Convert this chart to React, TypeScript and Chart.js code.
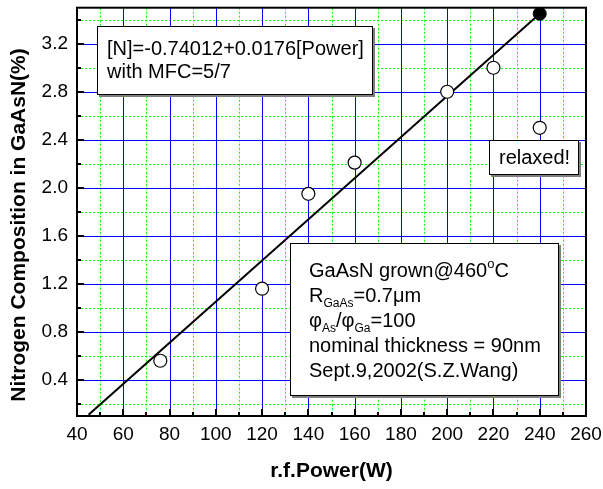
import React, { useEffect, useRef } from "react";
import { Chart, registerables } from "chart.js";

Chart.register(...registerables);

// ---- data ----
const powerW = [76, 120, 140, 160, 200, 220, 240];
const nitrogenPct = [0.56, 1.16, 1.95, 2.21, 2.8, 3.0, 2.5];
const relaxedPowerW = [240];
const relaxedPct = [3.45];
const fitPowerW = [45, 240];
const fitPct = [0.11, 3.45];

const xTickValues = [40, 60, 80, 100, 120, 140, 160, 180, 200, 220, 240, 260];
const yTickValues = [0.4, 0.8, 1.2, 1.6, 2.0, 2.4, 2.8, 3.2];
const xMinorValues = [50, 70, 90, 110, 130, 150, 170, 190, 210, 230, 250];
const yMinorValues = [0.2, 0.6, 1.0, 1.4, 1.8, 2.2, 2.6, 3.0, 3.4];
const xMajorGrid = [60, 80, 100, 120, 140, 160, 180, 200, 220, 240];

const xTitle = "r.f.Power(W)";
const yTitle = "Nitrogen Composition in GaAsN(%)";

const FONT = '"Liberation Sans", Arial, Helvetica, sans-serif';

type Run = { t: string; size?: number; dy?: number };

function drawRuns(ctx: CanvasRenderingContext2D, x: number, y: number, runs: Run[]) {
  let cx = x;
  for (const r of runs) {
    const size = r.size ?? 20;
    ctx.font = `${size}px ${FONT}`;
    ctx.fillText(r.t, cx, y + (r.dy ?? 0));
    cx += ctx.measureText(r.t).width;
  }
}

function drawBox(ctx: CanvasRenderingContext2D, x1: number, y1: number, x2: number, y2: number) {
  ctx.fillStyle = "#808080";
  ctx.fillRect(x2, y1 + 2, 2, y2 - y1);
  ctx.fillRect(x1 + 2, y2, x2 - x1, 2);
  ctx.fillStyle = "#ffffff";
  ctx.fillRect(x1, y1, x2 - x1, y2 - y1);
  ctx.strokeStyle = "#000000";
  ctx.lineWidth = 1;
  ctx.strokeRect(x1 + 0.5, y1 + 0.5, x2 - x1 - 1, y2 - y1 - 1);
}

const overlay = {
  id: "overlay",
  beforeDatasetsDraw(chart: any) {
    const { ctx, chartArea: a, scales } = chart;
    const x = scales.x;
    const y = scales.y;
    ctx.save();
    ctx.lineWidth = 1;
    // minor grid: green dotted
    ctx.strokeStyle = "#00ff00";
    ctx.setLineDash([2, 2]);
    for (const v of xMinorValues) {
      const px = Math.round(x.getPixelForValue(v)) + 0.5;
      ctx.beginPath();
      ctx.moveTo(px, a.top);
      ctx.lineTo(px, a.bottom);
      ctx.stroke();
    }
    for (const v of yMinorValues) {
      const py = Math.round(y.getPixelForValue(v)) + 0.5;
      ctx.beginPath();
      ctx.moveTo(a.left, py);
      ctx.lineTo(a.right, py);
      ctx.stroke();
    }
    // major grid: blue solid
    ctx.setLineDash([]);
    ctx.strokeStyle = "#0000ff";
    for (const v of xMajorGrid) {
      const px = Math.round(x.getPixelForValue(v)) + 0.5;
      ctx.beginPath();
      ctx.moveTo(px, a.top);
      ctx.lineTo(px, a.bottom);
      ctx.stroke();
    }
    for (const v of yTickValues) {
      const py = Math.round(y.getPixelForValue(v)) + 0.5;
      ctx.beginPath();
      ctx.moveTo(a.left, py);
      ctx.lineTo(a.right, py);
      ctx.stroke();
    }
    ctx.restore();
  },
  afterDatasetsDraw(chart: any) {
    const { ctx, chartArea: a, scales } = chart;
    const x = scales.x;
    const y = scales.y;
    ctx.save();
    // inward tick marks
    ctx.strokeStyle = "#000000";
    ctx.lineWidth = 2;
    const tick = (x1: number, y1: number, x2: number, y2: number) => {
      ctx.beginPath();
      ctx.moveTo(x1, y1);
      ctx.lineTo(x2, y2);
      ctx.stroke();
    };
    for (const v of xTickValues) {
      const px = Math.round(x.getPixelForValue(v));
      tick(px, a.bottom, px, a.bottom - 7);
    }
    for (const v of xMinorValues) {
      const px = Math.round(x.getPixelForValue(v));
      tick(px, a.bottom, px, a.bottom - 4);
    }
    for (const v of yTickValues) {
      const py = Math.round(y.getPixelForValue(v));
      tick(a.left, py, a.left + 7, py);
    }
    for (const v of yMinorValues) {
      const py = Math.round(y.getPixelForValue(v));
      tick(a.left, py, a.left + 4, py);
    }
    // frame
    ctx.strokeRect(a.left, a.top, a.right - a.left, a.bottom - a.top);

    // annotation boxes
    ctx.textBaseline = "alphabetic";
    ctx.textAlign = "left";
    drawBox(ctx, 97, 26, 373, 95);
    ctx.fillStyle = "#000";
    drawRuns(ctx, 107, 55, [{ t: "[N]=-0.74012+0.0176[Power]" }]);
    drawRuns(ctx, 107, 78, [{ t: "with MFC=5/7" }]);

    drawBox(ctx, 489, 140, 579, 175);
    ctx.fillStyle = "#000";
    drawRuns(ctx, 499, 164, [{ t: "relaxed!" }]);

    drawBox(ctx, 290, 243, 559, 396);
    ctx.fillStyle = "#000";
    drawRuns(ctx, 309, 277, [{ t: "GaAsN grown@460" }, { t: "o", size: 13, dy: -9 }, { t: "C" }]);
    drawRuns(ctx, 309, 302, [{ t: "R" }, { t: "GaAs", size: 12, dy: 5 }, { t: "=0.7\u03bcm" }]);
    drawRuns(ctx, 309, 327, [
      { t: "\u03c6" },
      { t: "As", size: 12, dy: 5 },
      { t: "/\u03c6" },
      { t: "Ga", size: 12, dy: 5 },
      { t: "=100" },
    ]);
    drawRuns(ctx, 309, 352, [{ t: "nominal thickness = 90nm" }]);
    drawRuns(ctx, 309, 377, [{ t: "Sept.9,2002(S.Z.Wang)" }]);

    // axis titles
    ctx.font = `bold 21px ${FONT}`;
    ctx.textAlign = "center";
    ctx.fillText(xTitle, (a.left + a.right) / 2, 477);
    ctx.save();
    ctx.translate(25, 225);
    ctx.rotate(-Math.PI / 2);
    ctx.fillText(yTitle, 0, 0);
    ctx.restore();
    ctx.restore();
  },
};

export default function App() {
  const ref = useRef<HTMLCanvasElement | null>(null);
  useEffect(() => {
    if (!ref.current) return;
    const chart = new Chart(ref.current, {
      type: "scatter",
      data: {
        datasets: [
          {
            label: "fit",
            data: fitPowerW.map((p, i) => ({ x: p, y: fitPct[i] })),
            showLine: true,
            borderColor: "#000",
            borderWidth: 2,
            pointRadius: 0,
            order: 3,
          },
          {
            label: "measured",
            data: powerW.map((p, i) => ({ x: p, y: nitrogenPct[i] })),
            showLine: false,
            pointRadius: 6.5,
            pointBackgroundColor: "#fff",
            pointBorderColor: "#000",
            pointBorderWidth: 1.2,
            order: 1,
          },
          {
            label: "relaxed",
            data: relaxedPowerW.map((p, i) => ({ x: p, y: relaxedPct[i] })),
            showLine: false,
            pointRadius: 6.5,
            pointBackgroundColor: "#000",
            pointBorderColor: "#000",
            pointBorderWidth: 1,
            order: 0,
          },
        ],
      },
      options: {
        animation: false,
        responsive: false,
        devicePixelRatio: 1,
        layout: { padding: { left: 0, top: 4, right: 17, bottom: 0 } },
        plugins: { legend: { display: false }, tooltip: { enabled: false } },
        scales: {
          x: {
            type: "linear",
            min: 40,
            max: 260,
            grid: { display: false, drawTicks: false },
            border: { display: false },
            afterBuildTicks: (s: any) => {
              s.ticks = xTickValues.map((v) => ({ value: v }));
            },
            afterFit: (s: any) => {
              s.height = 73;
              s.paddingLeft = 0;
              s.paddingRight = 0;
            },
            ticks: {
              color: "#000",
              font: { family: FONT, size: 19 },
              padding: 7,
              maxRotation: 0,
              autoSkip: false,
            },
          },
          y: {
            type: "linear",
            min: 0.1,
            max: 3.5,
            grid: { display: false, drawTicks: false },
            border: { display: false },
            afterBuildTicks: (s: any) => {
              s.ticks = yTickValues.map((v) => ({ value: v }));
            },
            afterFit: (s: any) => {
              s.width = 77;
              s.paddingTop = 0;
              s.paddingBottom = 0;
            },
            ticks: {
              color: "#000",
              font: { family: FONT, size: 19 },
              padding: 9,
              autoSkip: false,
              callback: (v: any) => Number(v).toFixed(1),
            },
          },
        },
      },
      plugins: [overlay],
    });
    return () => chart.destroy();
  }, []);
  return (
    <div style={{ position: "absolute", left: 0, top: 0, width: 603, height: 489, background: "#fff" }}>
      <canvas ref={ref} width={603} height={489} />
    </div>
  );
}
